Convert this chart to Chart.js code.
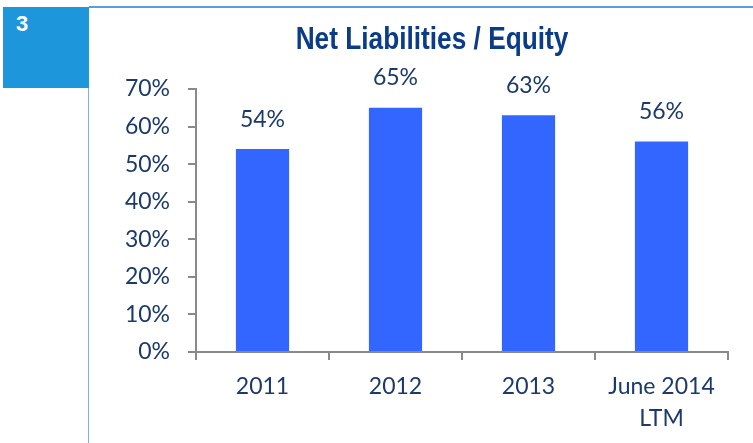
<!DOCTYPE html>
<html>
<head>
<meta charset="utf-8">
<script src="https://cdn.jsdelivr.net/npm/chart.js@4"></script>
<style>
  body { margin: 0; background: #fff; }
  #wrap { position: relative; width: 753px; height: 443px; overflow: hidden; }
  #chart { position: absolute; left: 0; top: 0; }
  .tab { position: absolute; left: 3px; top: 7px; width: 86px; height: 81px; background: #1e96dc; }
  .tab span { position: absolute; left: 13px; top: 4px; color: #fff; font: bold 22px "Liberation Sans", sans-serif; }
  .topline { position: absolute; left: 89px; top: 6px; right: 0; height: 2px; background: #5b9be0; }
  .sideline { position: absolute; left: 88px; top: 7px; bottom: 0; width: 1px; background: #7fb0e8; }
  .title { position: absolute; left: 232px; width: 400px; top: 20px; text-align: center;
           color: #0a3c87; font: bold 32px "Liberation Sans Narrow", "Liberation Sans", sans-serif;
           transform: scaleX(0.82); transform-origin: 50% 50%; }
</style>
</head>
<body>
<div id="wrap">
  <canvas id="chart" width="753" height="443"></canvas>
  <div class="topline"></div>
  <div class="sideline"></div>
  <div class="tab"><span>3</span></div>
  <div class="title">Net Liabilities / Equity</div>
</div>
<script>
// Net liabilities / equity bar chart

const categories = ['2011', '2012', '2013', ['June 2014', 'LTM']];
const ratios = [54, 65, 63, 56];
const yTicks = [0, 10, 20, 30, 40, 50, 60, 70];

const barBlue = '#3366ff';
const labelNavy = '#1b3a6b';
const axisGrey = '#898989';
const labelFont = { family: 'Lato', size: 23 };

// draws the % values above each bar
const valueLabels = {
  id: 'valueLabels',
  afterDatasetsDraw(chart) {
    const ctx = chart.ctx;
    const meta = chart.getDatasetMeta(0);
    ctx.save();
    ctx.fillStyle = labelNavy;
    ctx.font = '23px Lato';
    ctx.textAlign = 'center';
    ctx.textBaseline = 'middle';
    meta.data.forEach((bar, i) => {
      ctx.fillText(ratios[i] + '%', bar.x, bar.y - 30);
    });
    ctx.restore();
  }
};

var ctx = document.getElementById('chart').getContext('2d');
var chart = new Chart(ctx, {
  type: 'bar',
  data: {
    labels: categories,
    datasets: [{
      data: ratios,
      backgroundColor: barBlue,
      borderWidth: 0,
      categoryPercentage: 1,
      barPercentage: 0.4
    }]
  },
  options: {
    responsive: false,
    animation: false,
    layout: {
      padding: { top: 89, right: 25, left: 0, bottom: 0 }
    },
    plugins: {
      legend: { display: false },
      tooltip: { enabled: false }
    },
    scales: {
      x: {
        grid: { offset: true, drawOnChartArea: false, tickLength: 8, color: axisGrey, lineWidth: 2 },
        border: { color: axisGrey, width: 2 },
        ticks: { color: labelNavy, font: { ...labelFont, lineHeight: 1.37 }, padding: 11, maxRotation: 0 },
        afterFit(scale) { scale.height = 91; }
      },
      y: {
        min: 0,
        max: 70,
        afterBuildTicks(scale) { scale.ticks = yTicks.map(v => ({ value: v })); },
        grid: { drawOnChartArea: false, tickLength: 8, color: axisGrey, lineWidth: 2 },
        border: { color: axisGrey, width: 2 },
        ticks: { color: labelNavy, font: labelFont, padding: 18, callback: v => v + '%' },
        afterFit(scale) { scale.width = 196; }
      }
    }
  },
  plugins: [valueLabels]
});
</script>
</body>
</html>
